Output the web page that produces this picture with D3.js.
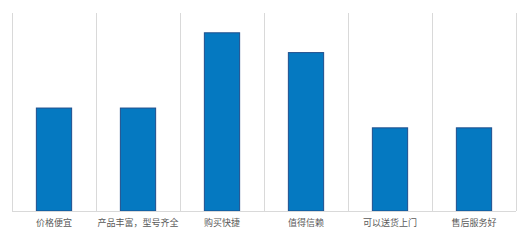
<!DOCTYPE html>
<html>
<head>
<meta charset="utf-8">
<script src="https://cdn.jsdelivr.net/npm/d3@7"></script>
<style>
  body { margin: 0; background: #fff; }
  svg { display: block; }
</style>
</head>
<body>
<svg width="528" height="240"></svg>
<script>
(function() {
    const categories = ["价格便宜", "产品丰富，型号齐全", "购买快捷", "值得信赖", "可以送货上门", "售后服务好"];
    const values = [26, 26, 45, 40, 21, 21];
    const yMax = 50;

    const svg = d3.select("svg"),
        margin = { top: 13, right: 12, bottom: 29, left: 12 },
        width = +svg.attr("width") - margin.left - margin.right,
        height = +svg.attr("height") - margin.top - margin.bottom;

    const g = svg.append("g").attr("transform", `translate(${margin.left},${margin.top})`);

    const x = d3.scaleBand().domain(categories).range([0, width]).paddingInner(0).paddingOuter(0);
    const y = d3.scaleLinear().domain([0, yMax]).range([height, 0]);

    // vertical separators between categories
    const bounds = categories.map(c => x(c)).concat([width]);
    g.selectAll(".sep")
        .data(bounds)
        .enter().append("line")
        .attr("class", "sep")
        .attr("x1", d => Math.round(d) + 0.5)
        .attr("x2", d => Math.round(d) + 0.5)
        .attr("y1", 0)
        .attr("y2", height)
        .attr("stroke", "#d9d9d9")
        .attr("stroke-width", 1);

    const barW = x.bandwidth() * 0.42;
    g.selectAll(".bar")
        .data(values)
        .enter().append("rect")
        .attr("class", "bar")
        .attr("x", (d, i) => x(categories[i]) + (x.bandwidth() - barW) / 2)
        .attr("y", d => y(d))
        .attr("width", barW)
        .attr("height", d => height - y(d))
        .attr("fill", "#0579c1")
        .attr("stroke", "#1f4e8c")
        .attr("stroke-width", 1);

    // baseline
    g.append("line")
        .attr("x1", 0)
        .attr("x2", width)
        .attr("y1", height + 0.5)
        .attr("y2", height + 0.5)
        .attr("stroke", "#d9d9d9");

    const xAxis = g.append("g")
        .attr("transform", `translate(0,${height})`)
        .call(d3.axisBottom(x).tickSize(0).tickPadding(9));
    xAxis.select(".domain").remove();
    xAxis.selectAll("text")
        .attr("fill", "#595959")
        .style("font", "9px 'Noto Sans CJK SC', sans-serif");
})();
</script>
</body>
</html>
